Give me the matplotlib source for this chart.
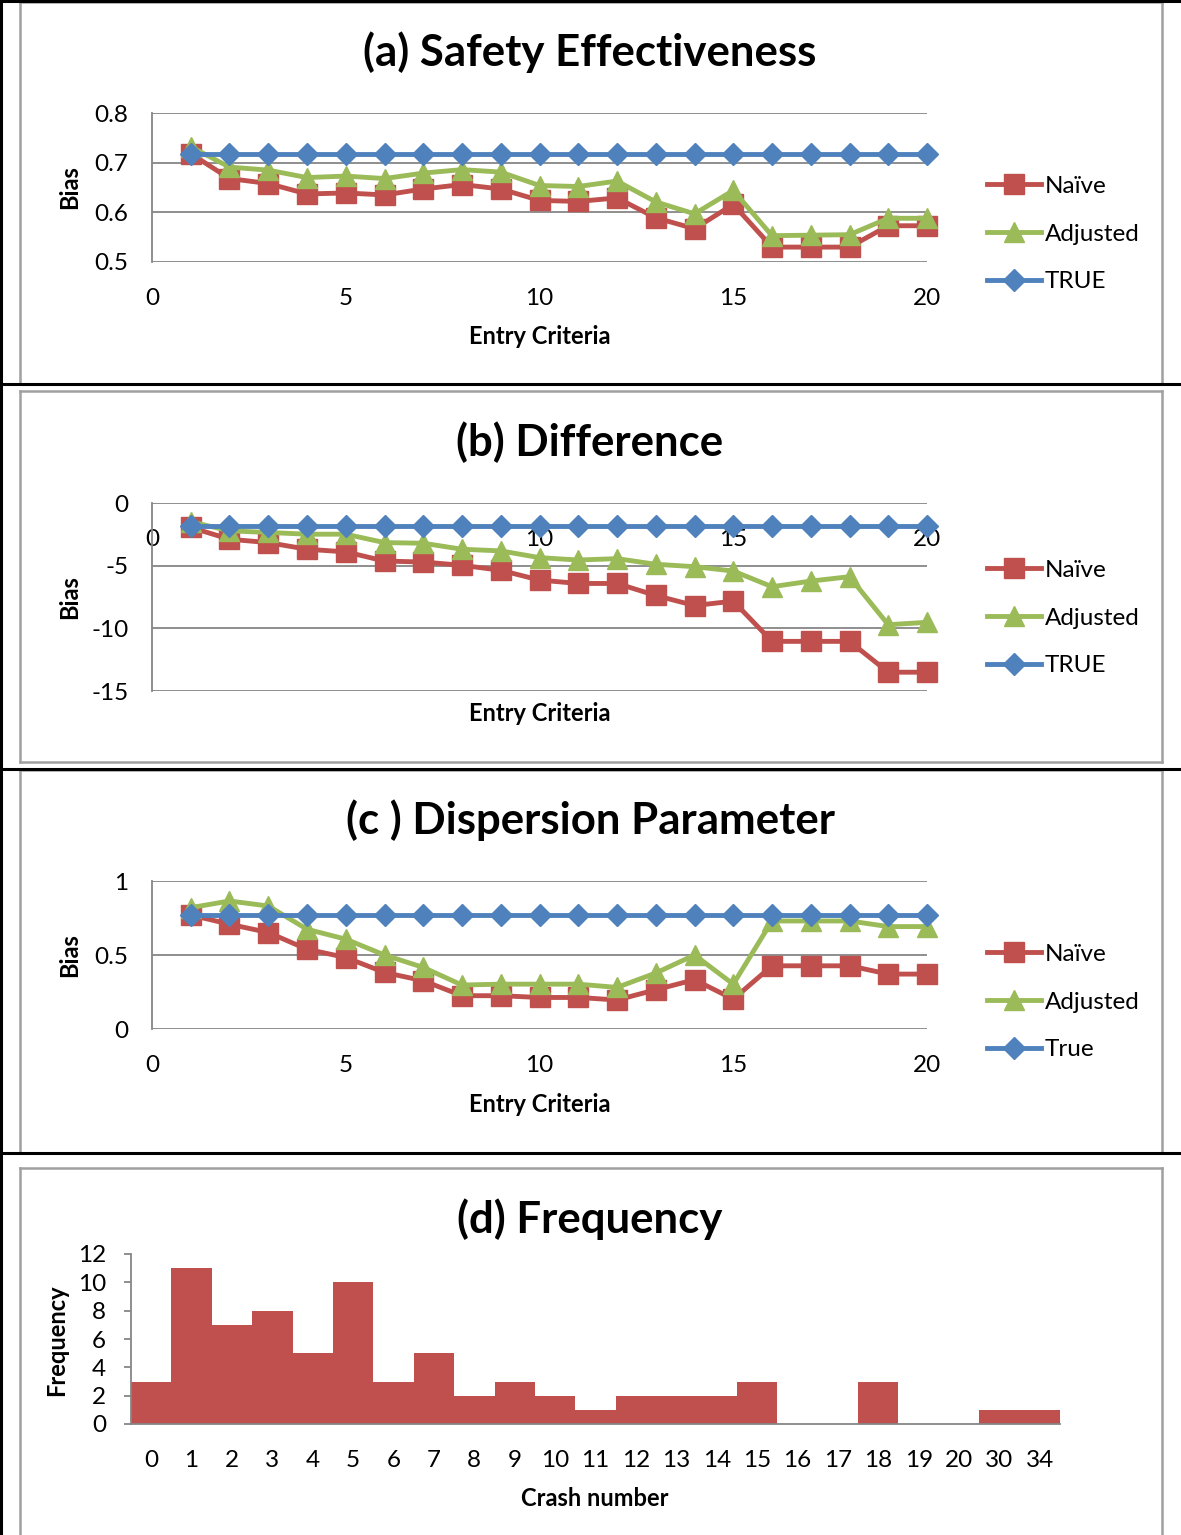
import matplotlib
matplotlib.use("Agg")
import matplotlib.pyplot as plt
from matplotlib.lines import Line2D

plt.rcParams['font.family'] = ['Lato', 'DejaVu Sans']

# ---------------- data ----------------
entry = list(range(1, 21))

a_naive = [0.718, 0.668, 0.658, 0.637, 0.639, 0.635, 0.647, 0.656, 0.647, 0.624,
           0.622, 0.629, 0.589, 0.567, 0.616, 0.530, 0.530, 0.530, 0.573, 0.573]
a_adjusted = [0.732, 0.691, 0.685, 0.670, 0.673, 0.668, 0.679, 0.686, 0.681, 0.654,
              0.652, 0.663, 0.621, 0.597, 0.644, 0.553, 0.554, 0.555, 0.588, 0.588]
a_true = [0.718] * 20

b_naive = [-1.95, -2.89, -3.16, -3.69, -3.90, -4.63, -4.71, -4.97, -5.37, -6.15,
           -6.42, -6.42, -7.38, -8.18, -7.83, -11.04, -11.04, -11.04, -13.5, -13.5]
b_adjusted = [-1.5, -2.22, -2.35, -2.49, -2.49, -3.16, -3.21, -3.69, -3.82, -4.36,
              -4.55, -4.44, -4.89, -5.08, -5.43, -6.68, -6.23, -5.88, -9.71, -9.52]
b_true = [-1.82] * 20

c_naive = [0.77, 0.708, 0.652, 0.539, 0.483, 0.382, 0.326, 0.225, 0.225, 0.213,
           0.213, 0.196, 0.265, 0.333, 0.202, 0.427, 0.427, 0.427, 0.371, 0.371]
c_adjusted = [0.82, 0.865, 0.831, 0.674, 0.607, 0.50, 0.416, 0.297, 0.303, 0.303,
              0.303, 0.281, 0.378, 0.50, 0.303, 0.73, 0.73, 0.73, 0.692, 0.692]
c_true = [0.768] * 20

crash_labels = ['0', '1', '2', '3', '4', '5', '6', '7', '8', '9', '10', '11', '12',
                '13', '14', '15', '16', '17', '18', '19', '20', '30', '34']
crash_freq = [3, 11, 7, 8, 5, 10, 3, 5, 2, 3, 2, 1, 2, 2, 2, 3, 0, 0, 3, 0, 0, 1, 1]

# ---------------- styling ----------------
W, H = 1181, 1535
RED, GREEN, BLUE = '#C0504D', '#9BBB59', '#4F81BD'
GRID = '#868686'
FRAME = '#A0A0A0'
TICK_FS = 17.5
LAB_FS = 17
TITLE_FS = 31.5

fig = plt.figure(figsize=(W / 100, H / 100), dpi=100)


def fx(x):
    return x / W


def fy(y):
    return 1 - y / H


def add_axes_px(x0, y0, x1, y1):
    return fig.add_axes([fx(x0), fy(y1), (x1 - x0) / W, (y1 - y0) / H])


def hline(y, x0, x1, color, lw):
    fig.add_artist(Line2D([fx(x0), fx(x1)], [fy(y), fy(y)], color=color, lw=lw,
                          transform=fig.transFigure))


def vline(x, y0, y1, color, lw):
    fig.add_artist(Line2D([fx(x), fx(x)], [fy(y0), fy(y1)], color=color, lw=lw,
                          transform=fig.transFigure))


# borders (table + chart frames)
for (top, bottom, has_bottom) in [(2, 384, False), (391, 762, True), (770, 1153, False), (1168, 1535, False)]:
    hline(top, 20, 1162, FRAME, 1.8)
    vline(20, top, bottom, FRAME, 1.8)
    vline(1162, top, bottom, FRAME, 1.8)
    if has_bottom:
        hline(bottom, 20, 1162, FRAME, 1.8)
for y in [0.5, 384, 768.5, 1153]:
    hline(y, 0, W, 'black', 2.2)
vline(1.5, 0, H, 'black', 2.2)


def line_panel(box, ylim, yticks, yticklabels, naive, adjusted, true, true_label,
               title, title_y, xlabel_y, bias_y, legend_y, top_axis=False):
    ax = add_axes_px(*box)
    ax.set_xlim(0, 20)
    ax.set_ylim(*ylim)
    ax.set_yticks(yticks)
    ax.set_yticklabels(yticklabels)
    ax.set_xticks([0, 5, 10, 15, 20])
    ax.yaxis.grid(True, color=GRID, lw=1.3)
    ax.set_axisbelow(True)
    for s in ['top', 'right', 'bottom']:
        ax.spines[s].set_visible(False)
    ax.spines['left'].set_color(GRID)
    ax.spines['left'].set_linewidth(1.3)
    if top_axis:
        ax.spines['bottom'].set_position(('data', 0))
    ax.tick_params(axis='both', length=0, labelsize=TICK_FS, colors='black')
    ax.tick_params(axis='x', pad=19)
    ax.tick_params(axis='y', pad=17)
    kw = dict(lw=3.5, clip_on=False)
    ax.plot(entry, naive, color=RED, marker='s', ms=14, label='Naïve', **kw)
    ax.plot(entry, adjusted, color=GREEN, marker='^', ms=15, label='Adjusted', **kw)
    ax.plot(entry, true, color=BLUE, marker='D', ms=11.5, label=true_label, **kw)
    fig.text(fx(590), fy(title_y), title, ha='center', va='center',
             fontsize=TITLE_FS, fontweight='bold')
    fig.text(fx(540), fy(xlabel_y), 'Entry Criteria', ha='center', va='center',
             fontsize=LAB_FS, fontweight='bold')
    fig.text(fx(70), fy(bias_y), 'Bias', ha='center', va='center', rotation=90,
             fontsize=LAB_FS, fontweight='bold')
    fig.legend(*ax.get_legend_handles_labels(), loc='center left',
               bbox_to_anchor=(fx(977), fy(legend_y)), frameon=False,
               fontsize=TICK_FS, handlelength=2.25, handletextpad=0.15,
               labelspacing=1.1, borderaxespad=0)
    return ax


line_panel((152, 113, 927, 262), (0.5, 0.8), [0.5, 0.6, 0.7, 0.8],
           ['0.5', '0.6', '0.7', '0.8'], a_naive, a_adjusted, a_true, 'TRUE',
           '(a) Safety Effectiveness', 52, 337, 187, 234)

line_panel((152, 503, 927, 691), (-15, 0), [-15, -10, -5, 0],
           ['-15', '-10', '-5', '0'], b_naive, b_adjusted, b_true, 'TRUE',
           '(b) Difference', 442, 714, 597, 618, top_axis=True)

line_panel((152, 881, 927, 1029), (0, 1), [0, 0.5, 1],
           ['0', '0.5', '1'], c_naive, c_adjusted, c_true, 'True',
           '(c ) Dispersion Parameter', 820, 1105, 955, 1002)

# ---------------- panel d ----------------
axd = add_axes_px(131, 1254, 1060, 1424)
pos = list(range(len(crash_labels)))
axd.bar(pos, crash_freq, width=1.0, color=RED, edgecolor='none')
axd.set_xlim(-0.5, len(crash_labels) - 0.5)
axd.set_ylim(0, 12)
axd.set_yticks(range(0, 13, 2))
axd.set_xticks(pos)
axd.set_xticklabels(crash_labels)
for s in ['top', 'right']:
    axd.spines[s].set_visible(False)
for s in ['left', 'bottom']:
    axd.spines[s].set_color(GRID)
    axd.spines[s].set_linewidth(1.3)
axd.tick_params(axis='y', length=5, color=GRID, width=1.3, labelsize=TICK_FS, pad=13)
axd.tick_params(axis='x', length=0, labelsize=TICK_FS, pad=19)
fig.text(fx(590), fy(1219), '(d) Frequency', ha='center', va='center',
         fontsize=TITLE_FS, fontweight='bold')
fig.text(fx(595), fy(1499), 'Crash number', ha='center', va='center',
         fontsize=LAB_FS, fontweight='bold')
fig.text(fx(57), fy(1340), 'Frequency', ha='center', va='center', rotation=90,
         fontsize=LAB_FS, fontweight='bold')

fig.savefig('out.png', dpi=100)
